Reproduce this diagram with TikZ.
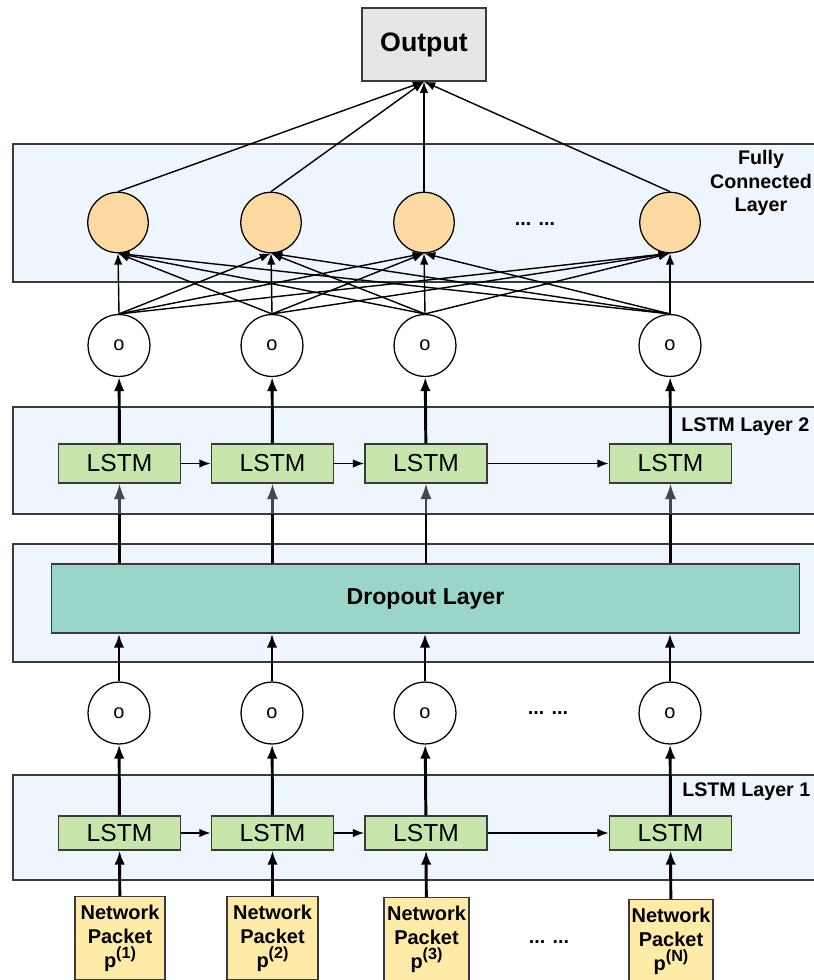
\documentclass[tikz,border=0pt]{standalone}
\usepackage{fontspec}
\setmainfont{Liberation Sans}
\usetikzlibrary{arrows.meta}

\definecolor{panelblue}{HTML}{EEF5FC}
\definecolor{lstmgreen}{HTML}{C6E6AC}
\definecolor{dropteal}{HTML}{9AD5CA}
\definecolor{fcorange}{HTML}{FDD9A2}
\definecolor{packetyellow}{HTML}{FFEBA8}
\definecolor{outgray}{HTML}{E6E6E6}
\definecolor{edgegray}{HTML}{3A3A3A}
\definecolor{slate}{HTML}{3F4852}

\newcommand{\pkidx}[1]{\raisebox{0.45em}{\fontsize{11.5}{12}\selectfont(#1)}}

\begin{document}
\begin{tikzpicture}[x=0.025cm, y=-0.025cm,
	panel/.style={draw=edgegray, line width=1pt, fill=panelblue},
	lstm/.style={draw=edgegray, line width=1pt, fill=lstmgreen, minimum width=87pt, inner sep=0pt, font=\fontsize{17.5}{20}\selectfont},
	unit/.style={draw, circle, line width=0.9pt, fill=white, minimum size=44pt, inner sep=0pt, font=\fontsize{14.2}{17}\selectfont},
	fcunit/.style={draw, circle, line width=0.9pt, fill=fcorange, minimum size=43pt, inner sep=0pt},
	packet/.style={draw=edgegray, line width=1pt, fill=packetyellow, anchor=north, align=center, inner xsep=0pt, inner ysep=6pt, font=\bfseries\fontsize{14.2}{17}\selectfont},
	tag/.style={font=\bfseries\fontsize{14}{17}\selectfont, align=center},
	thickarrow/.style={line width=2.1pt, -{Latex[length=10pt, width=7.5pt]}},
	thinarrow/.style={line width=1pt, -{Latex[length=8pt, width=6pt]}},
	grayarrow/.style={draw=slate, line width=1.6pt, -{Latex[length=11pt, width=8pt]}}
]
	\useasboundingbox (0,0) rectangle (814,980);

	% layer panels
	\draw [panel] (13,144) rectangle (830,282);
	\draw [panel] (13,407) rectangle (830,514);
	\draw [panel] (13,544) rectangle (830,662);
	\draw [panel] (13,775) rectangle (830,880);
	\coordinate (p2bot) at (0,514);

	% output and fully connected layer
	\node [draw=edgegray, line width=1pt, fill=outgray, minimum width=88pt, minimum height=51.7pt, font=\bfseries\fontsize{19}{22}\selectfont] (out) at (424,44.5) {Output};
	\node [fcunit] (fc1) at (118,222.5) {};
	\node [fcunit] (fc2) at (271,222.5) {};
	\node [fcunit] (fc3) at (424,222.5) {};
	\node [fcunit] (fc4) at (670,222.5) {};
	\node [tag] (fcdots) at (535,224) {... ...};
	\node [tag] (fclabel) at (761,183) {Fully\\Connected\\Layer};

	% outputs of lstm layer 2
	\node [unit] (up1) at (119,345.5) {o};
	\node [unit] (up2) at (272,345.5) {o};
	\node [unit] (up3) at (425,345.5) {o};
	\node [unit] (up4) at (670,345.5) {o};

	% lstm layer 2
	\node [lstm, minimum height=27.6pt] (l2a) at (119.5,463.5) {LSTM};
	\node [lstm, minimum height=27.6pt] (l2b) at (272.5,463.5) {LSTM};
	\node [lstm, minimum height=27.6pt] (l2c) at (426,463.5) {LSTM};
	\node [lstm, minimum height=27.6pt] (l2d) at (670.5,463.5) {LSTM};
	\node [tag, anchor=west, inner sep=0pt] (l2label) at (681,427) {LSTM Layer 2};

	% dropout
	\node [draw=edgegray, line width=1pt, fill=dropteal, minimum width=532pt, minimum height=49pt, font=\bfseries\fontsize{16.4}{19}\selectfont] (drop) at (425.5,598.5) {Dropout Layer};

	% outputs of lstm layer 1
	\node [unit] (lo1) at (119,713) {o};
	\node [unit] (lo2) at (272,713) {o};
	\node [unit] (lo3) at (425,713) {o};
	\node [unit] (lo4) at (670,713) {o};
	\node [tag] (lodots) at (548,713) {... ...};

	% lstm layer 1
	\node [lstm, minimum height=24pt] (l1a) at (119.5,833) {LSTM};
	\node [lstm, minimum height=24pt] (l1b) at (272.5,833) {LSTM};
	\node [lstm, minimum height=24pt] (l1c) at (426,833) {LSTM};
	\node [lstm, minimum height=24pt] (l1d) at (670.5,833) {LSTM};
	\node [tag, anchor=west, inner sep=0pt] (l1label) at (682,792) {LSTM Layer 1};

	% network packets
	\node [packet, minimum width=63.8pt] (pk1) at (120,896) {Network\\Packet\\p\pkidx{1}};
	\node [packet, minimum width=64.5pt] (pk2) at (272.5,896) {Network\\Packet\\p\pkidx{2}};
	\node [packet, minimum width=60.2pt] (pk3) at (426.5,897) {Network\\Packet\\p\pkidx{3}};
	\node [packet, minimum width=59.5pt] (pk4) at (671,899) {Network\\Packet\\p\pkidx{N}};
	\node [tag] (pkdots) at (549,942) {... ...};

	% packets into lstm layer 1
	\draw [thickarrow] (pk1) -- (l1a);
	\draw [thickarrow] (pk2) -- (l1b);
	\draw [thickarrow] (pk3) -- (l1c);
	\draw [thickarrow] (pk4) -- (l1d);
	\draw [thinarrow] (l1a) -- (l1b);
	\draw [thinarrow] (l1b) -- (l1c);
	\draw [thinarrow] (l1c) -- (l1d);

	% lstm layer 1 to dropout
	\draw [thickarrow] (l1a) -- (lo1);
	\draw [thickarrow] (l1b) -- (lo2);
	\draw [thickarrow] (l1c) -- (lo3);
	\draw [thickarrow] (l1d) -- (lo4);
	\draw [thickarrow] (lo1) -- (lo1 |- drop.south);
	\draw [thickarrow] (lo2) -- (lo2 |- drop.south);
	\draw [thickarrow] (lo3) -- (lo3 |- drop.south);
	\draw [thickarrow] (lo4) -- (lo4 |- drop.south);

	% dropout to lstm layer 2
	\draw [line width=2.1pt] (l2a |- drop.north) -- (l2a |- p2bot);
	\draw [line width=2.1pt] (l2b |- drop.north) -- (l2b |- p2bot);
	\draw [line width=2.1pt] (l2c |- drop.north) -- (l2c |- p2bot);
	\draw [line width=2.1pt] (l2d |- drop.north) -- (l2d |- p2bot);
	\draw [grayarrow] (l2a |- p2bot) -- (l2a);
	\draw [grayarrow] (l2b |- p2bot) -- (l2b);
	\draw [grayarrow] (l2c |- p2bot) -- (l2c);
	\draw [grayarrow] (l2d |- p2bot) -- (l2d);
	\draw [thinarrow] (l2a) -- (l2b);
	\draw [thinarrow] (l2b) -- (l2c);
	\draw [thinarrow] (l2c) -- (l2d);

	% lstm layer 2 to its outputs
	\draw [thickarrow] (l2a) -- (up1);
	\draw [thickarrow] (l2b) -- (up2);
	\draw [thickarrow] (l2c) -- (up3);
	\draw [thickarrow] (l2d) -- (up4);

	% fully connected
	\draw [thinarrow] (up1.north) -- (fc1.south);
	\draw [thinarrow] (up1.north) -- (fc2.south);
	\draw [thinarrow] (up1.north) -- (fc3.south);
	\draw [thinarrow] (up1.north) -- (fc4.south);
	\draw [thinarrow] (up2.north) -- (fc1.south);
	\draw [thinarrow] (up2.north) -- (fc2.south);
	\draw [thinarrow] (up2.north) -- (fc3.south);
	\draw [thinarrow] (up2.north) -- (fc4.south);
	\draw [thinarrow] (up3.north) -- (fc1.south);
	\draw [thinarrow] (up3.north) -- (fc2.south);
	\draw [thinarrow] (up3.north) -- (fc3.south);
	\draw [thinarrow] (up3.north) -- (fc4.south);
	\draw [thinarrow] (up4.north) -- (fc1.south);
	\draw [thinarrow] (up4.north) -- (fc2.south);
	\draw [thinarrow] (up4.north) -- (fc3.south);
	\draw [thinarrow] (up4.north) -- (fc4.south);

	% to output
	\draw [thinarrow] (fc1.north) -- (out.south);
	\draw [thinarrow] (fc2.north) -- (out.south);
	\draw [thinarrow] (fc3.north) -- (out.south);
	\draw [thinarrow] (fc4.north) -- (out.south);

\end{tikzpicture}
\end{document}
